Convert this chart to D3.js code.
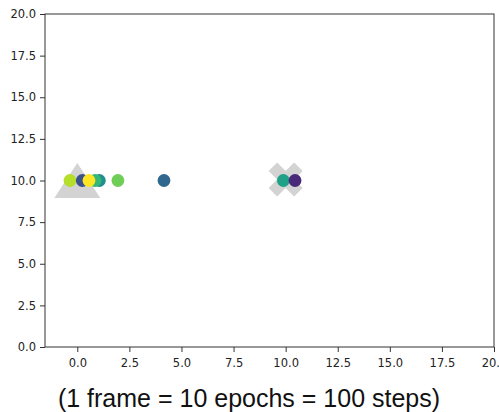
<!DOCTYPE html>
<html><head><meta charset="utf-8">
<script src="https://cdn.jsdelivr.net/npm/d3@7"></script>
<style>body{margin:0;background:#fff;} svg{display:block;}</style>
</head><body>
<svg id="c" width="499" height="412"></svg>
<script>
const xTicks = [0, 2.5, 5, 7.5, 10, 12.5, 15, 17.5, 20];
const yTicks = [0, 2.5, 5, 7.5, 10, 12.5, 15, 17.5, 20];
const startMarker = {x: 0, y: 10};
const goalMarker = {x: 10, y: 10};
const pointX = [-0.35, 0.24, 1.06, 0.85, 0.56, 1.95, 4.16, 9.89, 10.45];
const pointY = [10, 10, 10, 10, 10, 10, 10, 10, 10];
const pointColors = ["#b5de2b", "#3b528b", "#21918c", "#35b779", "#fde725", "#6ece58", "#31688e", "#1fa187", "#482878"];
const caption = "(1 frame = 10 epochs = 100 steps)";

const svg = d3.select("#c");
const L = 45, R = 494, T = 14, B = 347;
const x = d3.scaleLinear().domain([-1.55, 20]).range([L, R]);
const y = d3.scaleLinear().domain([0, 20]).range([B, T]);

const g = svg.append("g");
// markers
const cx0 = x(startMarker.x), cy0 = y(startMarker.y);
g.append("path")
  .attr("d", `M${cx0},${cy0-17.5} L${cx0+23},${cy0+17.5} L${cx0-23},${cy0+17.5} Z`)
  .attr("fill", "#d3d3d3");
const cx1 = x(goalMarker.x), cy1 = y(goalMarker.y) - 1;
const s = 17, w = 8.5;
g.append("path")
  .attr("d", `M${cx1-s+w},${cy1-s} L${cx1},${cy1-w} L${cx1+s-w},${cy1-s} L${cx1+s},${cy1-s+w} L${cx1+w},${cy1} L${cx1+s},${cy1+s-w} L${cx1+s-w},${cy1+s} L${cx1},${cy1+w} L${cx1-s+w},${cy1+s} L${cx1-s},${cy1+s-w} L${cx1-w},${cy1} L${cx1-s},${cy1-s+w} Z`)
  .attr("fill", "#d3d3d3");

g.selectAll("circle.p").data(pointX).enter().append("circle")
  .attr("class", "p")
  .attr("cx", d => x(d))
  .attr("cy", (d, i) => y(pointY[i]))
  .attr("r", 6.4)
  .attr("fill", (d, i) => pointColors[i]);

// axes
const fontF = "DejaVu Sans, sans-serif";
const xa = svg.append("g").attr("transform", `translate(0,${B})`)
  .call(d3.axisBottom(x).tickValues(xTicks).tickFormat(d3.format(".1f")).tickSize(5).tickPadding(7));
const ya = svg.append("g").attr("transform", `translate(${L},0)`)
  .call(d3.axisLeft(y).tickValues(yTicks).tickFormat(d3.format(".1f")).tickSize(5).tickPadding(4));
[xa, ya].forEach(a => {
  a.select(".domain").remove();
  a.selectAll("text").attr("font-family", fontF).attr("font-size", "11.5px").attr("fill", "#222");
  a.selectAll("line").attr("stroke", "#333");
});
svg.append("rect").attr("x", L).attr("y", T).attr("width", R - L).attr("height", B - T)
  .attr("fill", "none").attr("stroke", "#333").attr("stroke-width", 1);

svg.append("text").attr("x", 249).attr("y", 407)
  .attr("text-anchor", "middle")
  .attr("font-family", "Liberation Sans, Arial, sans-serif")
  .attr("font-size", "25px").attr("fill", "#111")
  .text(caption);
</script>
</body></html>
